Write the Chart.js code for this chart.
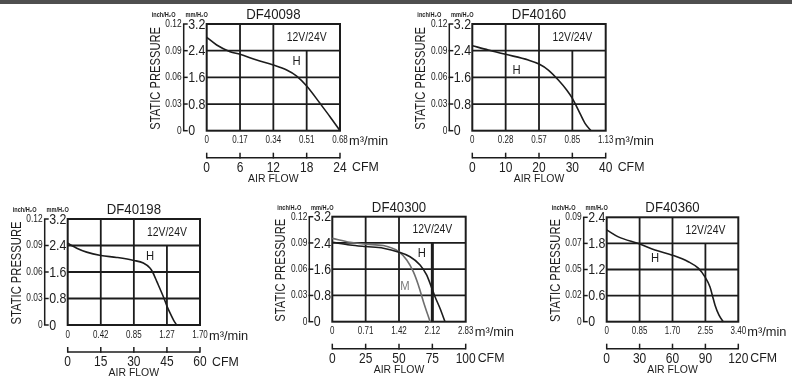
<!DOCTYPE html>
<html><head><meta charset="utf-8">
<script src="https://cdn.jsdelivr.net/npm/chart.js@4.4.1/dist/chart.umd.min.js"></script>
<style>
html,body{margin:0;padding:0;background:#fff;width:792px;height:376px;overflow:hidden;}
#topbar{position:absolute;left:0;top:0;width:792px;height:4px;background:#4f4f4f;}
canvas{position:absolute;left:0;top:0;}
</style></head><body>
<div id="topbar"></div>
<canvas id="c1" width="792" height="376"></canvas>
<canvas id="c2" width="792" height="376"></canvas>
<canvas id="c3" width="792" height="376"></canvas>
<canvas id="c4" width="792" height="376"></canvas>
<canvas id="c5" width="792" height="376"></canvas>
<script>
// ---------- DATA (air flow in CFM, static pressure in mmH2O) ----------
const df40098Flow = [0, 1.8, 4.2, 6, 9, 12, 14.4, 16.2, 18, 20.4, 22.2, 24];
const df40098H    = [2.8, 2.57, 2.37, 2.29, 2.12, 1.97, 1.82, 1.64, 1.34, 0.82, 0.42, 0];
const df40098Cfm  = [0, 6, 12, 18, 24];
const df40098M3   = ['0', '0.17', '0.34', '0.51', '0.68'];
const df40098Mm   = [0, 0.8, 1.6, 2.4, 3.2];
const df40098Inch = ['0', '0.03', '0.06', '0.09', '0.12'];

const df40160Flow = [0, 4.8, 10, 16.8, 20, 22.8, 25.8, 28.3, 30, 31.8, 33.8, 35.6];
const df40160H    = [2.55, 2.42, 2.29, 2.12, 2.0, 1.82, 1.52, 1.22, 0.97, 0.62, 0.22, 0];
const df40160Cfm  = [0, 10, 20, 30, 40];
const df40160M3   = ['0', '0.28', '0.57', '0.85', '1.13'];
const df40160Mm   = [0, 0.8, 1.6, 2.4, 3.2];
const df40160Inch = ['0', '0.03', '0.06', '0.09', '0.12'];

const df40198Flow = [0, 1.8, 4.1, 8.6, 15, 22.2, 30, 34.3, 37.3, 38.5, 40.5, 43.7, 45, 46.5, 48, 49.4];
const df40198H    = [2.47, 2.4, 2.32, 2.2, 2.1, 2.04, 1.95, 1.87, 1.72, 1.6, 1.3, 0.8, 0.57, 0.35, 0.15, 0];
const df40198Cfm  = [0, 15, 30, 45, 60];
const df40198M3   = ['0', '0.42', '0.85', '1.27', '1.70'];
const df40198Mm   = [0, 0.8, 1.6, 2.4, 3.2];
const df40198Inch = ['0', '0.03', '0.06', '0.09', '0.12'];

const df40300FlowH = [0, 13.3, 25.1, 38.3, 50, 58.3, 65.8, 70.8, 74.6, 77, 80.7, 84.5];
const df40300H     = [2.42, 2.34, 2.29, 2.24, 2.12, 1.98, 1.73, 1.42, 1.02, 0.76, 0.41, 0];
const df40300FlowM = [0, 13.3, 25.1, 38.3, 50, 55.8, 60.8, 64.5, 68.3, 73.3];
const df40300M     = [2.54, 2.42, 2.36, 2.32, 2.13, 1.88, 1.52, 1.12, 0.61, 0];
const df40300Cfm   = [0, 25, 50, 75, 100];
const df40300M3    = ['0', '0.71', '1.42', '2.12', '2.83'];
const df40300Mm    = [0, 0.8, 1.6, 2.4, 3.2];
const df40300Inch  = ['0', '0.03', '0.06', '0.09', '0.12'];

const df40360Flow = [0, 10.6, 29.7, 44, 59.8, 74.4, 83.5, 89.6, 94.2, 96.3, 98.8, 102.4, 106.3];
const df40360H    = [2.11, 1.95, 1.79, 1.65, 1.53, 1.38, 1.23, 1.03, 0.80, 0.61, 0.38, 0.15, 0];
const df40360Cfm  = [0, 30, 60, 90, 120];
const df40360M3   = ['0', '0.85', '1.70', '2.55', '3.40'];
const df40360Mm   = [0, 0.6, 1.2, 1.8, 2.4];
const df40360Inch = ['0', '0.02', '0.05', '0.07', '0.09'];

// ---------- LAYOUT / STYLE ----------
const W = 792, H = 376;
const REG = '"Liberation Sans",Arial,Helvetica,sans-serif';
const INK = '#1c1c1c';
const SQ = 0.8; // horizontal squeeze giving an Arial-Narrow look

function pts(xs, ys){ return xs.map((x,i)=>({x:x, y:ys[i]})); }

function txt(ctx, s, x, y, size, align, sx, weight){
  ctx.save();
  ctx.font = (weight ? weight+' ' : '') + size + 'px ' + REG;
  ctx.textAlign = align; ctx.textBaseline = 'middle';
  ctx.translate(x, y); ctx.scale(sx, 1);
  ctx.fillText(s, 0, 0);
  ctx.restore();
}

const deco = {
  id: 'fanDeco',
  beforeDatasetsDraw(chart){
    const o = chart.options.plugins.fanDeco;
    const ctx = chart.ctx, xs = chart.scales.x, ys = chart.scales.y;
    const L = xs.getPixelForValue(o.cfm[0]), R = xs.getPixelForValue(o.cfm[4]);
    const T = ys.getPixelForValue(o.mm[4]), B = ys.getPixelForValue(o.mm[0]);
    ctx.save();
    ctx.strokeStyle = INK; ctx.lineCap = 'butt';
    ctx.lineWidth = 1.8;
    for (let i=1;i<4;i++){ const y=ys.getPixelForValue(o.mm[i]); ctx.beginPath(); ctx.moveTo(L,y); ctx.lineTo(R,y); ctx.stroke(); }
    for (let i=1;i<4;i++){
      const x=xs.getPixelForValue(o.cfm[i]);
      const y0 = (i===3) ? ys.getPixelForValue(o.mm[3]) : T;
      ctx.lineWidth = (i===3 && o.thick) ? 3 : 1.8;
      ctx.beginPath(); ctx.moveTo(x,y0); ctx.lineTo(x,B); ctx.stroke();
    }
    ctx.lineWidth = 2;
    ctx.strokeRect(L,T,R-L,B-T);
    ctx.restore();
  },
  afterDatasetsDraw(chart){
    const o = chart.options.plugins.fanDeco;
    const ctx = chart.ctx, xs = chart.scales.x, ys = chart.scales.y;
    const L = xs.getPixelForValue(o.cfm[0]), R = xs.getPixelForValue(o.cfm[4]);
    const T = ys.getPixelForValue(o.mm[4]), B = ys.getPixelForValue(o.mm[0]);
    const cx = (L+R)/2;
    ctx.save();
    ctx.fillStyle = INK; ctx.strokeStyle = INK;
    // title
    txt(ctx, o.title, cx, T-9, 15, 'center', 0.88);
    // voltage text in merged cell
    const xm = (xs.getPixelForValue(o.cfm[2])+R)/2, ym=(T+ys.getPixelForValue(o.mm[3]))/2;
    txt(ctx, '12V/24V', xm, ym, 13, 'center', SQ);
    // curve labels
    o.labels.forEach(l=>{
      ctx.fillStyle = l.color || INK;
      txt(ctx, l.text, xs.getPixelForValue(l.x), ys.getPixelForValue(l.y), 12.5, 'center', 0.9);
    });
    ctx.fillStyle = INK;
    // pressure axis
    const ax = L - 23;
    ctx.lineWidth = 1.5;
    ctx.beginPath(); ctx.moveTo(ax, T); ctx.lineTo(ax, B); ctx.stroke();
    for (let i=0;i<5;i++){
      const y = ys.getPixelForValue(o.mm[i]);
      ctx.beginPath(); ctx.moveTo(ax-0.75,y); ctx.lineTo(ax+4,y); ctx.stroke();
      txt(ctx, String(o.mm[i]), ax+4.5, y+0.5, 15.5, 'left', SQ);
      txt(ctx, o.inch[i], ax-2, y, 10.5, 'right', SQ);
    }
    txt(ctx, 'inch/H\u2082O', ax-20, T-9, 7, 'center', 0.8, 'bold');
    txt(ctx, 'mm/H\u2082O', ax+13, T-9, 7, 'center', 0.8, 'bold');
    // axis title
    ctx.save();
    ctx.translate(ax-28, (T+B)/2+1); ctx.rotate(-Math.PI/2);
    txt(ctx, 'STATIC PRESSURE', 0, 0, 14, 'center', 0.8);
    ctx.restore();
    // m3/min labels
    for (let i=0;i<5;i++) txt(ctx, o.m3[i], xs.getPixelForValue(o.cfm[i]), B+10, 10, 'center', SQ);
    txt(ctx, 'm\u00B3/min', R+9, B+11, 13.5, 'left', 0.95);
    // CFM axis
    const cy = B + 27;
    ctx.lineWidth = 1.5;
    ctx.beginPath(); ctx.moveTo(L, cy); ctx.lineTo(R, cy); ctx.stroke();
    for (let i=0;i<5;i++){
      const x = xs.getPixelForValue(o.cfm[i]);
      ctx.beginPath(); ctx.moveTo(x, cy+0.75); ctx.lineTo(x, cy-5); ctx.stroke();
      txt(ctx, String(o.cfm[i]), x, cy+10, 15, 'center', SQ);
    }
    txt(ctx, 'CFM', R+12, cy+10, 13, 'left', 0.95);
    txt(ctx, 'AIR FLOW', cx, cy+21, 11, 'center', 0.95);
    ctx.restore();
  }
};

function makeChart(id, box, o, datasets){
  const maxX = o.cfm[4], maxY = o.mm[4];
  new Chart(document.getElementById(id), {
    type: 'line',
    data: { datasets: datasets.map(d=>({
      data: pts(d.x, d.y), borderColor: d.color, borderWidth: 1.6,
      pointRadius: 0, fill: false, cubicInterpolationMode: 'monotone', clip: false
    })) },
    options: {
      responsive: false, animation: false, devicePixelRatio: 1, events: [],
      layout: { padding: { left: box.l, right: W-box.r, top: box.t, bottom: H-box.b } },
      scales: {
        x: { type: 'linear', min: 0, max: maxX, display: false },
        y: { type: 'linear', min: 0, max: maxY, display: false }
      },
      plugins: { legend: {display:false}, tooltip: {enabled:false}, fanDeco: o }
    },
    plugins: [deco]
  });
}

makeChart('c1', {l:206.7, r:340, t:24, b:130.7},
  {title:'DF40098', cfm:df40098Cfm, m3:df40098M3, mm:df40098Mm, inch:df40098Inch,
   labels:[{text:'H', x:16.2, y:2.07}]},
  [{x:df40098Flow, y:df40098H, color:INK}]);

makeChart('c2', {l:472.3, r:605.7, t:24, b:130.7},
  {title:'DF40160', cfm:df40160Cfm, m3:df40160M3, mm:df40160Mm, inch:df40160Inch,
   labels:[{text:'H', x:13.3, y:1.79}]},
  [{x:df40160Flow, y:df40160H, color:INK}]);

makeChart('c3', {l:67.7, r:200, t:219, b:325},
  {title:'DF40198', cfm:df40198Cfm, m3:df40198M3, mm:df40198Mm, inch:df40198Inch,
   labels:[{text:'H', x:37.3, y:2.08}]},
  [{x:df40198Flow, y:df40198H, color:INK}]);

makeChart('c4', {l:332.3, r:465.7, t:216.7, b:321.7},
  {title:'DF40300', cfm:df40300Cfm, m3:df40300M3, mm:df40300Mm, inch:df40300Inch, thick:true,
   labels:[{text:'H', x:67.1, y:2.08}, {text:'M', x:54.5, y:1.07, color:'#7a7a7a'}]},
  [{x:df40300FlowH, y:df40300H, color:INK}, {x:df40300FlowM, y:df40300M, color:'#6e6e6e'}]);

makeChart('c5', {l:606.7, r:738.3, t:217.3, b:321.7},
  {title:'DF40360', cfm:df40360Cfm, m3:df40360M3, mm:df40360Mm, inch:df40360Inch,
   labels:[{text:'H', x:44, y:1.46}]},
  [{x:df40360Flow, y:df40360H, color:INK}]);
</script>
</body></html>
